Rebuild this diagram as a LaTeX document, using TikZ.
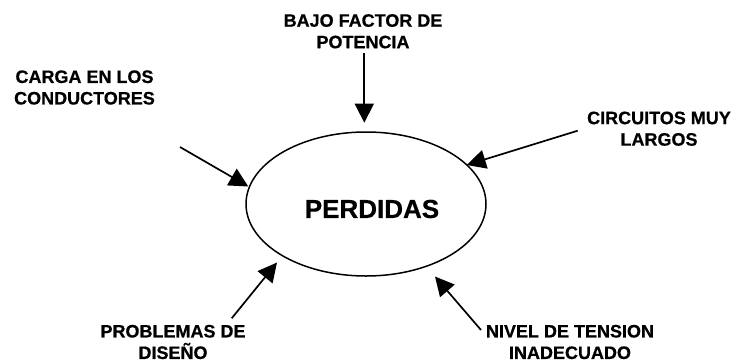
\documentclass[tikz,border=0pt]{standalone}
\usepackage{fontspec}
\setmainfont{Liberation Sans}[BoldFeatures={FakeBold=0.6}]
\usetikzlibrary{arrows.meta,shapes.geometric}
\tikzset{
  lbl/.style={align=center, inner sep=0pt, font=\fontsize{18}{21.5}\selectfont\bfseries},
  mainlbl/.style={inner sep=0pt, font=\fontsize{26}{30}\selectfont\bfseries},
  oval/.style={draw, ellipse, line width=1.5pt, minimum width=240pt, minimum height=144pt, inner sep=0pt},
  arr/.style={line width=1.7pt, -{Triangle[length=19pt,width=19pt]}, shorten >=0pt}
}
\begin{document}
\begin{tikzpicture}[x=1pt,y=-1pt]
\useasboundingbox (0,0) rectangle (736,362);
\node[oval] (e) at (366,204) {};
\node[mainlbl] (p) at (372,209) {PERDIDAS};
\node[lbl] (bajo) at (363,31.3) {BAJO FACTOR DE\\POTENCIA};
\node[lbl] (carga) at (84.5,87.5) {CARGA EN LOS\\CONDUCTORES};
\node[lbl] (circ) at (659,128.7) {CIRCUITOS MUY\\LARGOS};
\node[lbl] (prob) at (173,342) {PROBLEMAS DE\\DISEÑO};
\node[lbl] (nivel) at (570,342) {NIVEL DE TENSION\\INADECUADO};
\coordinate (s1) at (364.3,53);   \coordinate (t1) at (364.3,122.7);
\coordinate (s2) at (180,147);    \coordinate (t2) at (248.3,186.5);
\coordinate (s3) at (577.7,130.7);\coordinate (t3) at (466.7,165);
\coordinate (s4) at (231.7,318.3);\coordinate (t4) at (277,262.5);
\coordinate (s5) at (481,330);    \coordinate (t5) at (435,276.5);
\draw[arr] (s1) -- (t1);
\draw[arr] (s2) -- (t2);
\draw[arr] (s3) -- (t3);
\draw[arr] (s4) -- (t4);
\draw[arr] (s5) -- (t5);
\end{tikzpicture}
\end{document}
